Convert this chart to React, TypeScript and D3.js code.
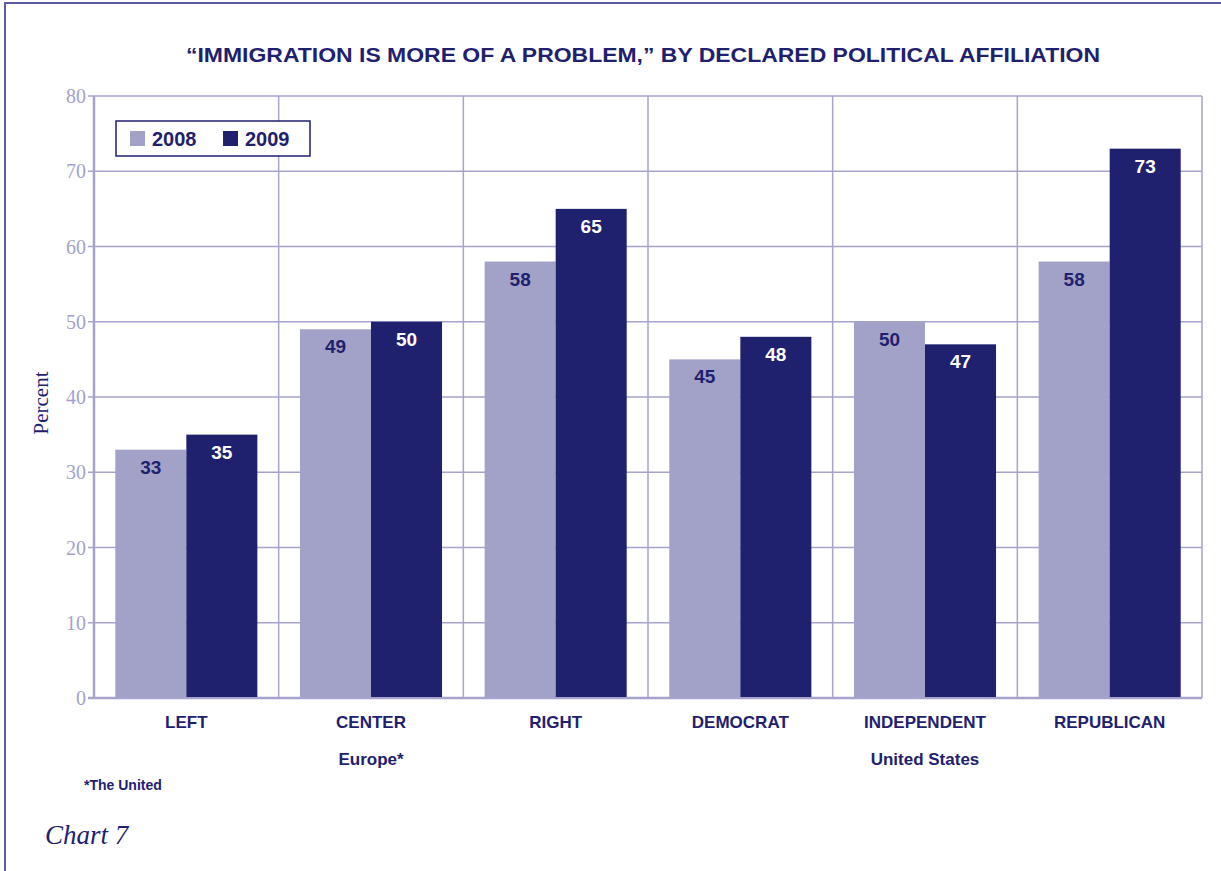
import React, { useEffect, useRef } from "react";
import * as d3 from "d3";

const categories = ["LEFT", "CENTER", "RIGHT", "DEMOCRAT", "INDEPENDENT", "REPUBLICAN"];
const series = ["2008", "2009"];
const values2008 = [33, 49, 58, 45, 50, 58];
const values2009 = [35, 50, 65, 48, 47, 73];
const yTicks = [0, 10, 20, 30, 40, 50, 60, 70, 80];
const groupLabels = [
  { label: "Europe*", from: 0, to: 2 },
  { label: "United States", from: 3, to: 5 },
];
const colors = ["#a2a1c8", "#1f216f"];
const labelColors = ["#1f216f", "#ffffff"];

const W = 1221;
const H = 871;
const M = { left: 94, right: 1202, top: 96, bottom: 698 };
const NAVY = "#1f216f";
const GRID = "#a6a3cc";
const SANS = "'Liberation Sans', Arial, sans-serif";
const SERIF = "'Liberation Serif', 'DejaVu Serif', serif";

export default function App() {
  const ref = useRef<SVGSVGElement>(null);
  useEffect(() => {
    const svg = d3.select(ref.current);
    svg.selectAll("*").remove();

    // outer border
    svg.append("rect").attr("x", 5).attr("y", 3).attr("width", W + 20).attr("height", H + 20)
      .attr("fill", "none").attr("stroke", "#5c5ca0").attr("stroke-width", 2);

    const x = d3.scaleBand<string>().domain(categories).range([M.left, M.right]).paddingInner(0).paddingOuter(0);
    const inner = d3.scaleBand<string>().domain(series).range([0, x.bandwidth()]).paddingOuter(0.3).paddingInner(0);
    const y = d3.scaleLinear().domain([0, 80]).range([M.bottom, M.top]);

    // title
    svg.append("text").attr("x", 643).attr("y", 62).attr("text-anchor", "middle")
      .attr("font-family", SANS).attr("font-weight", "bold").attr("font-size", 21)
      .attr("fill", NAVY).attr("textLength", 914).attr("lengthAdjust", "spacingAndGlyphs")
      .text("\u201CIMMIGRATION IS MORE OF A PROBLEM,\u201D BY DECLARED POLITICAL AFFILIATION");

    // gridlines
    const g = svg.append("g");
    yTicks.forEach((t) => {
      g.append("line").attr("x1", M.left - 6).attr("x2", M.right).attr("y1", y(t)).attr("y2", y(t))
        .attr("stroke", GRID).attr("stroke-width", t === 0 ? 2.5 : 1.5);
      g.append("text").attr("x", 86).attr("y", y(t) + 7).attr("text-anchor", "end")
        .attr("font-family", SERIF).attr("font-size", 20).attr("fill", "#a4a2cb").text(t);
    });
    const bounds = categories.map((c) => x(c)!).concat([M.right]);
    bounds.forEach((bx, i) => {
      g.append("line").attr("x1", bx).attr("x2", bx).attr("y1", M.top).attr("y2", M.bottom)
        .attr("stroke", GRID).attr("stroke-width", i === 0 ? 2.5 : 1.5);
    });

    // bars
    const data = [values2008, values2009];
    series.forEach((s, si) => {
      categories.forEach((c, ci) => {
        const v = data[si][ci];
        const bx = x(c)! + inner(s)!;
        svg.append("rect").attr("x", bx).attr("y", y(v)).attr("width", inner.bandwidth())
          .attr("height", y(0) - y(v) - 1).attr("fill", colors[si]);
        svg.append("text").attr("x", bx + inner.bandwidth() / 2).attr("y", y(v) + 24)
          .attr("text-anchor", "middle").attr("font-family", SANS).attr("font-weight", "bold")
          .attr("font-size", 19).attr("fill", labelColors[si]).text(v);
      });
    });

    // category labels
    categories.forEach((c) => {
      svg.append("text").attr("x", x(c)! + x.bandwidth() / 2).attr("y", 728).attr("text-anchor", "middle")
        .attr("font-family", SANS).attr("font-weight", "bold").attr("font-size", 17)
        .attr("fill", NAVY).text(c);
    });
    groupLabels.forEach((gl) => {
      const cx = (x(categories[gl.from])! + x(categories[gl.to])! + x.bandwidth()) / 2;
      svg.append("text").attr("x", cx).attr("y", 765).attr("text-anchor", "middle")
        .attr("font-family", SANS).attr("font-weight", "bold").attr("font-size", 17)
        .attr("fill", NAVY).text(gl.label);
    });

    // y label
    svg.append("text").attr("transform", "translate(48,403) rotate(-90)").attr("text-anchor", "middle")
      .attr("font-family", SERIF).attr("font-size", 21).attr("fill", NAVY).text("Percent");

    // legend
    const lg = svg.append("g");
    lg.append("rect").attr("x", 116).attr("y", 121).attr("width", 194).attr("height", 35)
      .attr("fill", "#fff").attr("stroke", NAVY).attr("stroke-width", 1.5);
    series.forEach((s, si) => {
      const lx = si === 0 ? 130 : 223;
      lg.append("rect").attr("x", lx).attr("y", 131).attr("width", 15).attr("height", 15).attr("fill", colors[si]);
      lg.append("text").attr("x", lx + 22).attr("y", 146).attr("font-family", SANS).attr("font-weight", "bold")
        .attr("font-size", 20).attr("fill", NAVY).text(s);
    });

    // footnote & caption
    svg.append("text").attr("x", 84).attr("y", 790).attr("font-family", SANS).attr("font-weight", "bold")
      .attr("font-size", 14).attr("fill", NAVY).text("*The United");
    svg.append("text").attr("x", 45).attr("y", 844).attr("font-family", SERIF).attr("font-style", "italic")
      .attr("font-size", 27).attr("fill", NAVY).text("Chart 7");
  }, []);

  return (
    <div style={{ position: "absolute", left: 0, top: 0 }}>
      <svg ref={ref} width={W} height={H} style={{ display: "block", background: "#fff" }} />
    </div>
  );
}
